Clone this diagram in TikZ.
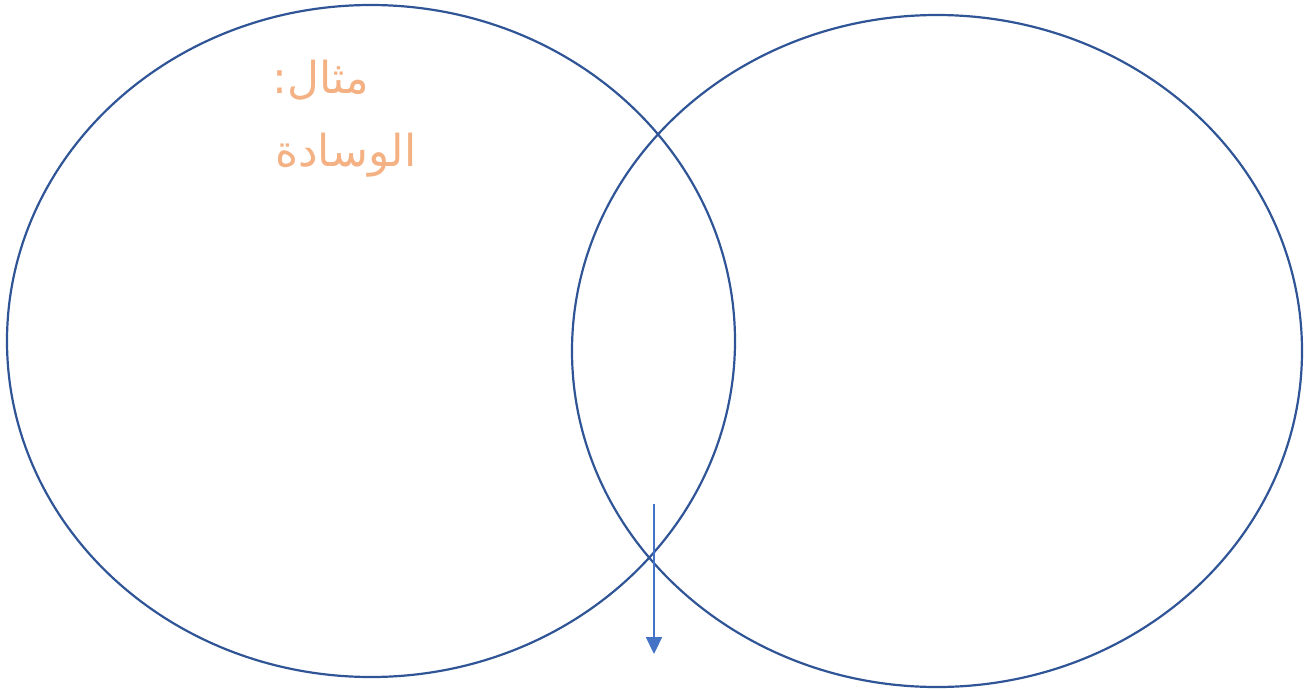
\documentclass[tikz,border=0pt]{standalone}
\usepackage{fontspec}
\TeXXeTstate=1
\newfontfamily\arabicfont[Script=Arabic]{DejaVu Sans}
\usetikzlibrary{arrows.meta}
\definecolor{ringblue}{HTML}{2F5597}
\definecolor{arrowblue}{HTML}{4472C4}
\definecolor{labelorange}{HTML}{F4B183}
\tikzset{
  ring/.style={draw=ringblue, line width=2.2pt},
  lbl/.style={text=labelorange, font=\arabicfont\fontsize{44}{50}\selectfont, inner sep=0pt, anchor=west},
  pointer/.style={draw=arrowblue, line width=2.2pt, -{Triangle[length=17pt,width=16pt]}}
}
\begin{document}
\begin{tikzpicture}[x=1pt,y=-1pt]
\useasboundingbox (0,0) rectangle (1312,689);
\draw[ring] (371,341) ellipse [x radius=364, y radius=336];
\draw[ring] (937,351) ellipse [x radius=365, y radius=336];
\node[lbl] (t1) at (272,80) {\beginR مثال:\endR};
\node[lbl] (t2) at (275,155) {\beginR الوسادة\endR};
\coordinate (a1) at (654,504);
\coordinate (a2) at (654,654);
\draw[pointer] (a1) -- (a2);
\end{tikzpicture}
\end{document}
